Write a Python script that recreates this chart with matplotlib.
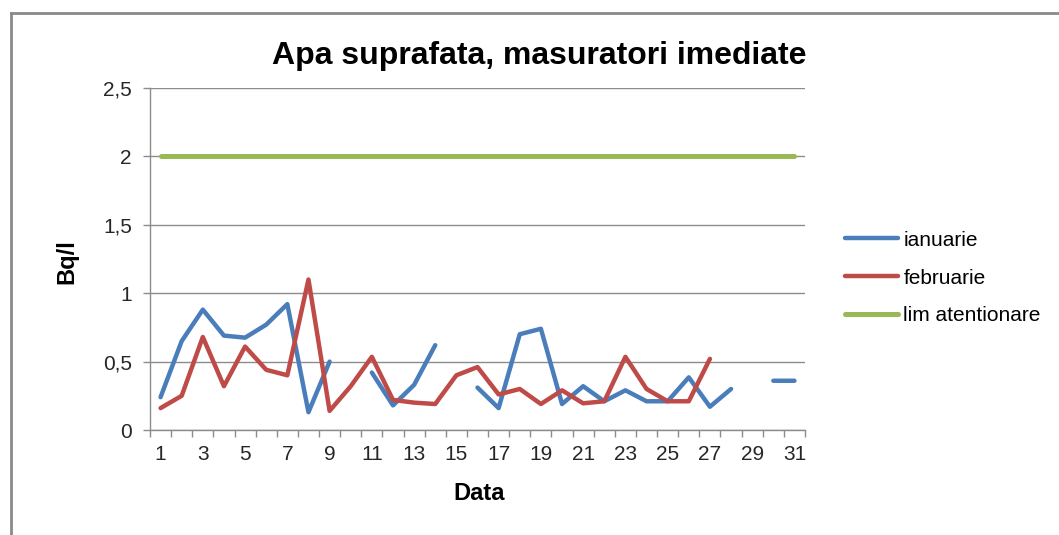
import numpy as np
import matplotlib
matplotlib.use("Agg")
import matplotlib.pyplot as plt
from matplotlib.lines import Line2D
from matplotlib.ticker import FixedLocator, FuncFormatter

plt.rcParams['font.family'] = ['Liberation Sans', 'DejaVu Sans']

nan = np.nan
days = list(range(1, 32))
ianuarie = [0.24, 0.65, 0.88, 0.69, 0.675, 0.77, 0.92, 0.13, 0.50, nan,
            0.42, 0.18, 0.33, 0.62, nan, 0.31, 0.16, 0.70, 0.74, 0.19,
            0.32, 0.21, 0.29, 0.21, 0.21, 0.385, 0.17, 0.30, nan, 0.36, 0.36]
februarie = [0.16, 0.25, 0.68, 0.32, 0.61, 0.44, 0.40, 1.10, 0.14, 0.32,
             0.535, 0.22, 0.20, 0.19, 0.40, 0.46, 0.26, 0.30, 0.19, 0.29,
             0.195, 0.21, 0.535, 0.30, 0.21, 0.21, 0.52, nan, nan, nan, nan]
lim_atentionare = [2] * 31

series_names = ["ianuarie", "februarie", "lim atentionare"]
colors = ["#4A7EBB", "#BE4B48", "#98B954"]
ytick_vals = [0, 0.5, 1, 1.5, 2, 2.5]

fig = plt.figure(figsize=(10.59, 5.35), dpi=100)
ax = fig.add_axes([150 / 1059, 1 - 430 / 535, 655 / 1059, 342 / 535])

grid_c = "#8C8C8C"
kw = dict(linewidth=3.2, solid_capstyle='round', solid_joinstyle='round')
ax.plot(days, ianuarie, color=colors[0], label=series_names[0], **kw)
ax.plot(days, februarie, color=colors[1], label=series_names[1], **kw)
ax.plot(days, lim_atentionare, color=colors[2], label=series_names[2],
        linewidth=3.6, solid_capstyle='round')

ax.set_xlim(0.5, 31.5)
ax.set_ylim(0, 2.5)

ax.yaxis.set_major_locator(FixedLocator(ytick_vals))
ax.yaxis.set_major_formatter(FuncFormatter(lambda v, p: ("%g" % v).replace(".", ",")))
ax.grid(axis='y', color=grid_c, linewidth=1)
ax.set_axisbelow(True)

ax.xaxis.set_major_locator(FixedLocator(days[::2]))
ax.xaxis.set_minor_locator(FixedLocator(np.arange(0.5, 32, 1)))
ax.tick_params(axis='x', which='major', length=0, pad=11, labelsize=15, labelcolor="#262626")
ax.tick_params(axis='x', which='minor', length=5, width=1, color=grid_c)
ax.tick_params(axis='y', length=5, width=1, color=grid_c, pad=8, labelsize=15, labelcolor="#262626")

for s in ['top', 'right']:
    ax.spines[s].set_visible(False)
for s in ['left', 'bottom']:
    ax.spines[s].set_color(grid_c)
    ax.spines[s].set_linewidth(1)

fig.text(539.5 / 1059, 1 - 64 / 535, "Apa suprafata, masuratori imediate",
         ha='center', va='baseline', fontsize=23, fontweight='bold')
fig.text(479 / 1059, 1 - 500 / 535, "Data", ha='center', va='baseline',
         fontsize=17, fontweight='bold')
fig.text(67 / 1059, 1 - 262 / 535, "Bq/l", ha='center', va='center',
         rotation=90, fontsize=17, fontweight='bold')

fig.legend(loc='center left', bbox_to_anchor=(845 / 1059, 1 - 278 / 535),
           frameon=False, fontsize=15, handlelength=2.55, handletextpad=0.25,
           labelspacing=0.9, borderpad=0, borderaxespad=0)

# outer chart frame (cropped on right and bottom)
fig.add_artist(Line2D([11 / 1059, 1.01], [1 - 13 / 535, 1 - 13 / 535],
                      transform=fig.transFigure, color="#8A8A8A", linewidth=2))
fig.add_artist(Line2D([11 / 1059, 11 / 1059], [1 - 13 / 535, -0.01],
                      transform=fig.transFigure, color="#8A8A8A", linewidth=2))

fig.savefig("out.png", dpi=100)
